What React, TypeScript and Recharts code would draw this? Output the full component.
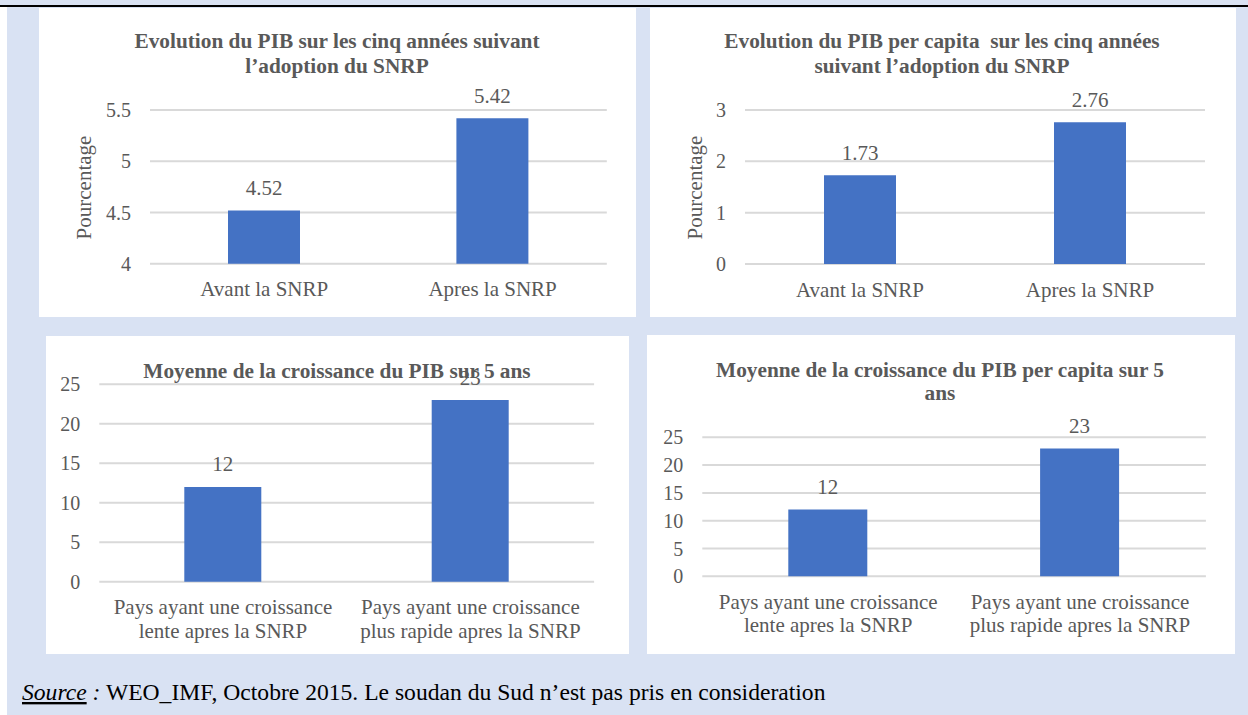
import { BarChart, Bar, XAxis, YAxis, CartesianGrid, LabelList } from 'recharts';

// chart data
const snrpCategories = ['Avant la SNRP', 'Apres la SNRP'];
const pibValues = [4.52, 5.42];
const pibTicks = [4, 4.5, 5, 5.5];
const pibCapitaValues = [1.73, 2.76];
const pibCapitaTicks = [0, 1, 2, 3];

const growthCategories = [
  'Pays ayant une croissance\nlente apres la SNRP',
  'Pays ayant une croissance\nplus rapide apres la SNRP',
];
const growthValues = [12, 23];
const growthCapitaValues = [12, 23];
const growthTicks = [0, 5, 10, 15, 20, 25];

const BLUE = '#4472C4';
const TEXT = '#595959';
const GRID = '#D9D9D9';
const BG = '#D9E2F3';
const FONT = "'Liberation Serif', 'Times New Roman', serif";

type Box = { x: number; y: number; w: number; h: number };
type Plot = { left: number; right: number; top: number; bottom: number };

const CategoryTick = (props: any) => {
  const { x, y, payload } = props;
  const lines = String(payload.value).split('\n');
  return (
    <text x={x} y={y + 32.5} textAnchor="middle" fill={TEXT} fontSize={21} fontFamily={FONT}>
      {lines.map((line, i) => (
        <tspan key={i} x={x} dy={i === 0 ? 0 : 23.4}>
          {line}
        </tspan>
      ))}
    </text>
  );
};

type PanelProps = {
  box: Box;
  plot: Plot;
  categories: string[];
  values: number[];
  ticks: number[];
  barSize: number;
  title: string[];
  titleX: number;
  titleY: number[];
  yLabel?: { x: number; y: number };
};

function Panel({ box, plot, categories, values, ticks, barSize, title, titleX, titleY, yLabel }: PanelProps) {
  const data = categories.map((name, i) => ({ name, value: values[i] }));
  const margin = {
    top: plot.top - box.y,
    right: box.x + box.w - plot.right,
    left: 0,
    bottom: 0,
  };
  return (
    <div style={{ position: 'absolute', left: box.x, top: box.y, width: box.w, height: box.h, background: '#fff' }}>
      <BarChart width={box.w} height={box.h} data={data} margin={margin}>
        <CartesianGrid vertical={false} stroke={GRID} strokeWidth={2} />
        <XAxis
          dataKey="name"
          axisLine={false}
          tickLine={false}
          tickSize={0}
          tickMargin={0}
          interval={0}
          height={box.y + box.h - plot.bottom}
          tick={<CategoryTick />}
        />
        <YAxis
          type="number"
          domain={[ticks[0], ticks[ticks.length - 1]]}
          ticks={ticks}
          interval={0}
          axisLine={false}
          tickLine={false}
          tickSize={0}
          tickMargin={19}
          width={plot.left - box.x}
          tick={{ fill: TEXT, fontSize: 20, fontFamily: FONT }}
        />
        <Bar dataKey="value" fill={BLUE} barSize={barSize} isAnimationActive={false}>
          <LabelList dataKey="value" position="top" offset={15.5} fill={TEXT} fontSize={21} fontFamily={FONT} />
        </Bar>
      </BarChart>
      <svg width={box.w} height={box.h} style={{ position: 'absolute', left: 0, top: 0, pointerEvents: 'none' }}>
        {title.map((line, i) => (
          <text
            key={i}
            x={titleX - box.x}
            y={titleY[i] - box.y}
            textAnchor="middle"
            fill={TEXT}
            fontSize={21.3}
            fontWeight="bold"
            fontFamily={FONT}
            style={{ whiteSpace: 'pre' }}
          >
            {line}
          </text>
        ))}
        {yLabel && (
          <text
            x={0}
            y={0}
            transform={`translate(${yLabel.x - box.x},${yLabel.y - box.y}) rotate(-90)`}
            textAnchor="middle"
            fill={TEXT}
            fontSize={21}
            fontFamily={FONT}
          >
            Pourcentage
          </text>
        )}
      </svg>
    </div>
  );
}

export default function App() {
  return (
    <div style={{ position: 'absolute', left: 0, top: 0, width: 1248, height: 715, background: '#fff', overflow: 'hidden', fontFamily: FONT }}>
      <div style={{ position: 'absolute', left: 0, top: 0, width: 1248, height: 5, background: BG }} />
      <div style={{ position: 'absolute', left: 0, top: 5, width: 1248, height: 2, background: '#000' }} />
      <div style={{ position: 'absolute', left: 7, top: 7, width: 1241, height: 708, background: BG }} />

      <Panel
        box={{ x: 39, y: 8, w: 597, h: 309 }}
        plot={{ left: 150, right: 606.8, top: 110, bottom: 263.7 }}
        categories={snrpCategories}
        values={pibValues}
        ticks={pibTicks}
        barSize={72}
        title={['Evolution du PIB sur les cinq années suivant', 'l’adoption du SNRP']}
        titleX={337}
        titleY={[48.3, 72.7]}
        yLabel={{ x: 91, y: 187.5 }}
      />
      <Panel
        box={{ x: 650, y: 8, w: 586, h: 309 }}
        plot={{ left: 745, right: 1205, top: 110, bottom: 264 }}
        categories={snrpCategories}
        values={pibCapitaValues}
        ticks={pibCapitaTicks}
        barSize={72}
        title={['Evolution du PIB per capita  sur les cinq années', 'suivant l’adoption du SNRP']}
        titleX={942}
        titleY={[48.3, 72.7]}
        yLabel={{ x: 702, y: 187.5 }}
      />
      <Panel
        box={{ x: 46, y: 336, w: 583, h: 318 }}
        plot={{ left: 99.3, right: 594.1, top: 384.3, bottom: 581.7 }}
        categories={growthCategories}
        values={growthValues}
        ticks={growthTicks}
        barSize={77}
        title={['Moyenne de la croissance du PIB sur 5 ans']}
        titleX={337}
        titleY={[377.7]}
      />
      <Panel
        box={{ x: 647, y: 335, w: 588, h: 319 }}
        plot={{ left: 702.3, right: 1205.9, top: 437.3, bottom: 576.3 }}
        categories={growthCategories}
        values={growthCapitaValues}
        ticks={growthTicks}
        barSize={79}
        title={['Moyenne de la croissance du PIB per capita sur 5', 'ans']}
        titleX={940}
        titleY={[376.7, 400]}
      />

      <svg width={1248} height={715} style={{ position: 'absolute', left: 0, top: 0, pointerEvents: 'none' }}>
        <text x={22} y={700} fontSize={23.6} fontFamily={FONT} fill="#000">
          <tspan fontStyle="italic" textDecoration="underline">Source</tspan>
          <tspan fontStyle="italic"> :</tspan>
          <tspan> WEO_IMF, Octobre 2015. Le soudan du Sud n’est pas pris en consideration</tspan>
        </text>
      </svg>
    </div>
  );
}
